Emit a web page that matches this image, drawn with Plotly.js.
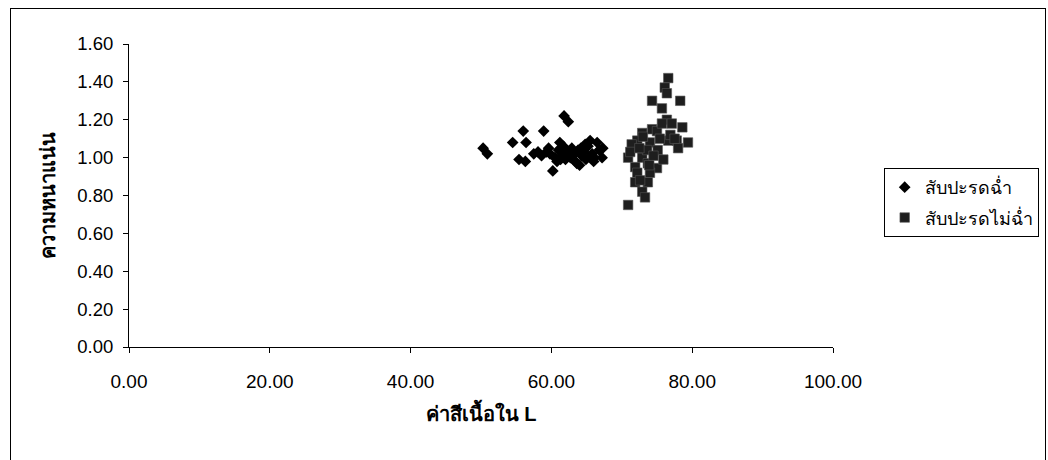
<!DOCTYPE html>
<html>
<head>
<meta charset="utf-8">
<script src="https://cdn.plot.ly/plotly-3.0.1.min.js"></script>
<style>
html,body{margin:0;padding:0;background:#fff;}
#wrap{position:relative;width:1048px;height:460px;}
#chart{position:absolute;left:0;top:0;width:1048px;height:460px;}
#frame{position:absolute;left:10px;top:8px;width:1036px;height:470px;border:1px solid #000;pointer-events:none;box-sizing:border-box;}
</style>
</head>
<body>
<div id="wrap"><div id="chart"></div><div id="frame"></div></div>
<script>
// Series 1: สับปะรดฉ่ำ (diamonds)
const ripeL = [50.3, 50.9, 54.5, 56.0, 56.4, 55.4, 56.3, 58.9, 61.8, 62.4, 58.1, 60.2, 61.2, 57.5, 58.6, 59.3, 59.8, 60.5, 61.0, 61.5, 62.0, 62.3, 62.7, 63.1, 63.4, 63.8, 64.0, 64.3, 64.6, 64.9, 65.2, 65.5, 65.8, 66.1, 66.5, 66.8, 67.2, 67.3, 60.8, 61.7, 62.9, 63.6, 64.8, 65.6, 59.6, 61.3, 63.0, 64.2, 66.0];
const ripeD = [1.05, 1.02, 1.08, 1.14, 1.08, 0.99, 0.98, 1.14, 1.22, 1.19, 1.03, 0.93, 1.08, 1.02, 1.01, 1.03, 1.02, 1.00, 1.04, 1.01, 0.99, 1.03, 1.00, 1.02, 0.98, 1.04, 0.96, 1.01, 1.03, 0.99, 1.06, 1.09, 1.02, 1.00, 1.08, 1.04, 1.00, 1.05, 0.98, 1.06, 1.05, 0.97, 1.07, 1.01, 1.05, 0.99, 1.01, 1.05, 0.98];
// Series 2: สับปะรดไม่ฉ่ำ (squares)
const unripeL = [76.6, 76.1, 76.4, 74.3, 78.3, 75.7, 76.4, 77.1, 78.6, 74.3, 72.9, 75.0, 79.4, 77.8, 76.6, 72.2, 74.0, 78.0, 70.9, 72.9, 73.6, 75.1, 71.9, 73.7, 75.0, 72.2, 74.0, 71.9, 73.7, 72.6, 72.9, 73.3, 70.9, 75.7, 75.9, 71.4, 71.2, 73.0, 74.5, 76.9, 77.5, 72.5, 73.9, 75.4];
const unripeD = [1.42, 1.37, 1.34, 1.30, 1.30, 1.26, 1.20, 1.18, 1.16, 1.15, 1.13, 1.14, 1.08, 1.09, 1.09, 1.09, 1.08, 1.05, 1.00, 1.00, 1.04, 1.04, 0.95, 0.97, 0.945, 0.92, 0.92, 0.87, 0.87, 0.88, 0.82, 0.79, 0.75, 1.18, 0.99, 1.07, 1.03, 1.11, 1.01, 1.12, 1.10, 1.05, 0.96, 1.10];

const seriesNames = ['สับปะรดฉ่ำ', 'สับปะรดไม่ฉ่ำ'];
const xTitle = 'ค่าสีเนื้อใน L';
const yTitle = 'ความหนาแน่น';

const FONT = 'Liberation Sans, Arial, Noto Sans, DejaVu Sans, sans-serif';

const traces = [
  {x: ripeL, y: ripeD, name: seriesNames[0], type: 'scatter', mode: 'markers', legendgroup: 'a',
   marker: {symbol: 'diamond', size: 9, color: '#000', line: {width: 0}}},
  {x: unripeL, y: unripeD, name: seriesNames[1], type: 'scatter', mode: 'markers', legendgroup: 'b',
   marker: {symbol: 'square', size: 9.5, color: '#1e1e1e', line: {width: 0.6, color: '#555'}}}
];

const layout = {
  width: 1048, height: 460,
  margin: {l: 129, r: 215, t: 44, b: 113, autoexpand: false},
  paper_bgcolor: '#fff', plot_bgcolor: '#fff',
  font: {family: FONT, size: 19, color: '#000'},
  showlegend: true,
  legend: {x: 1.072, xanchor: 'left', y: 0.591, yanchor: 'top',
    bordercolor: '#000', borderwidth: 1, bgcolor: '#fff',
    font: {family: FONT, size: 18, color: '#000'},
    traceorder: 'grouped', tracegroupgap: 4, itemwidth: 30},
  xaxis: {range: [0, 100], dtick: 20, tick0: 0, tickformat: '.2f',
    showline: true, linecolor: '#000', linewidth: 1, mirror: false,
    ticks: 'outside', ticklen: 5, tickcolor: '#000', showgrid: false, zeroline: false,
    ticklabelstandoff: 12,
    tickfont: {family: FONT, size: 19},
    title: {text: '<b>' + xTitle + '</b>', font: {family: FONT, size: 20}, standoff: 16}},
  yaxis: {range: [0, 1.6], dtick: 0.2, tick0: 0, tickformat: '.2f',
    showline: true, linecolor: '#000', linewidth: 1,
    ticks: 'outside', ticklen: 5, tickcolor: '#000', showgrid: false, zeroline: false,
    ticklabelstandoff: 6,
    tickfont: {family: FONT, size: 18.5},
    title: {text: '<b>' + yTitle + '</b>', font: {family: FONT, size: 20}, standoff: 16}}
};

Plotly.newPlot('chart', traces, layout, {displayModeBar: false, staticPlot: true});
</script>
</body>
</html>
